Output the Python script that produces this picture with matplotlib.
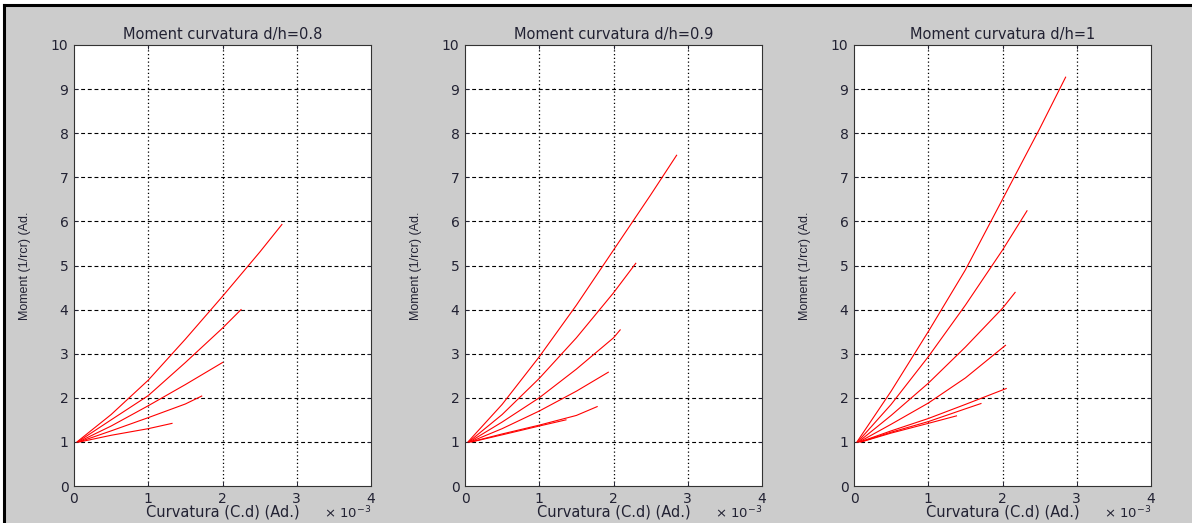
import matplotlib
matplotlib.use("Agg")
import matplotlib.pyplot as plt
from matplotlib.patches import Rectangle
from matplotlib.lines import Line2D

plt.rcParams['font.family'] = ['DejaVu Sans']

# curvatura values are in units of 1e-3 (axis shows "x 10^-3")
# d/h = 0.8
x08 = [
    [0.04, 0.5, 1.0, 1.5, 2.0, 2.5, 2.80],
    [0.05, 0.5, 1.0, 1.5, 2.0, 2.25],
    [0.06, 0.5, 1.0, 1.5, 2.0],
    [0.07, 0.5, 1.0, 1.5, 1.72],
    [0.08, 0.5, 1.0, 1.32],
]
y08 = [
    [1.0, 1.62, 2.40, 3.33, 4.30, 5.30, 5.93],
    [1.0, 1.50, 2.05, 2.80, 3.58, 4.00],
    [1.0, 1.36, 1.82, 2.30, 2.80],
    [1.0, 1.25, 1.55, 1.86, 2.04],
    [1.0, 1.15, 1.30, 1.42],
]

# d/h = 0.9
x09 = [
    [0.04, 0.5, 1.0, 1.5, 2.0, 2.5, 2.85],
    [0.05, 0.5, 1.0, 1.5, 2.0, 2.30],
    [0.06, 0.5, 1.0, 1.5, 2.0, 2.09],
    [0.07, 0.5, 1.0, 1.5, 1.93],
    [0.08, 0.5, 1.0, 1.5, 1.78],
    [0.09, 0.5, 1.0, 1.36],
]
y09 = [
    [1.0, 1.85, 2.93, 4.10, 5.35, 6.60, 7.50],
    [1.0, 1.62, 2.44, 3.36, 4.38, 5.05],
    [1.0, 1.45, 2.00, 2.65, 3.36, 3.54],
    [1.0, 1.30, 1.70, 2.15, 2.58],
    [1.0, 1.18, 1.38, 1.60, 1.80],
    [1.0, 1.16, 1.36, 1.50],
]

# d/h = 1
x10 = [
    [0.04, 0.5, 1.0, 1.5, 2.0, 2.5, 2.85],
    [0.05, 0.5, 1.0, 1.5, 2.0, 2.33],
    [0.06, 0.5, 1.0, 1.5, 2.0, 2.17],
    [0.07, 0.5, 1.0, 1.5, 2.04],
    [0.08, 0.5, 1.0, 1.5, 2.05],
    [0.09, 0.5, 1.0, 1.5, 1.71],
    [0.10, 0.5, 1.0, 1.38],
]
y10 = [
    [1.0, 2.15, 3.50, 4.90, 6.50, 8.10, 9.27],
    [1.0, 1.85, 2.93, 4.10, 5.35, 6.24],
    [1.0, 1.60, 2.33, 3.15, 4.03, 4.39],
    [1.0, 1.40, 1.88, 2.45, 3.19],
    [1.0, 1.25, 1.53, 1.85, 2.21],
    [1.0, 1.22, 1.46, 1.75, 1.87],
    [1.0, 1.20, 1.42, 1.59],
]

titles = ['Moment curvatura d/h=0.8', 'Moment curvatura d/h=0.9', 'Moment curvatura d/h=1']
panels = [(x08, y08), (x09, y09), (x10, y10)]
xticks = [0, 1, 2, 3, 4]
yticks = [0, 1, 2, 3, 4, 5, 6, 7, 8, 9, 10]

W, H = 1192, 523
fig = plt.figure(figsize=(W / 100, H / 100), dpi=100, facecolor='#cccccc')

# white strip on top and left, black frame
fig.patches.append(Rectangle((0, (H - 5) / H), 1, 5 / H, transform=fig.transFigure,
                             facecolor='white', edgecolor='none', zorder=-10))
fig.patches.append(Rectangle((0, 0), 4 / W, 1, transform=fig.transFigure,
                             facecolor='white', edgecolor='none', zorder=-10))
fig.lines.append(Line2D([4 / W, 1], [(H - 5) / H, (H - 5) / H], transform=fig.transFigure,
                        color='black', lw=2.2))
fig.lines.append(Line2D([4 / W, 4 / W], [0, (H - 5) / H], transform=fig.transFigure,
                        color='black', lw=2.2))

txt = '#222233'
lefts = [74, 465, 854]
for left, (xs, ys), title in zip(lefts, panels, titles):
    ax = fig.add_axes([left / W, (H - 486) / H, 297 / W, 441 / H])
    ax.set_facecolor('white')
    for xx, yy in zip(xs, ys):
        ax.plot(xx, yy, color='red', lw=0.8)
    ax.set_xlim(0, 4)
    ax.set_ylim(0, 10)
    ax.set_xticks(xticks)
    ax.set_yticks(yticks)
    for t in xticks[1:-1]:
        ax.axvline(t, color='black', lw=0.9, ls=(0, (1, 2)), zorder=0.5)
    for t in yticks[1:-1]:
        ax.axhline(t, color='black', lw=0.8, ls=(0, (3.5, 2.5)), zorder=0.5)
    ax.tick_params(direction='in', length=3, width=0.7, top=True, right=True,
                   labelsize=10, colors=txt, pad=4)
    for s in ax.spines.values():
        s.set_color('#333333')
        s.set_linewidth(0.8)
    ax.set_title(title, fontsize=10.5, color=txt, pad=4)
    ax.set_xlabel('Curvatura (C.d) (Ad.)', fontsize=10.5, color=txt, labelpad=-1)
    ax.set_ylabel('Moment (1/rcr) (Ad.', fontsize=9, color=txt, labelpad=14,
                  family=['DejaVu Sans Condensed', 'Liberation Sans Narrow', 'Liberation Sans'])
    ax.text(1.0, -0.061, r'$\times$ 10$^{-3}$', transform=ax.transAxes, ha='right', va='center',
            fontsize=9.5, color=txt)

fig.savefig('out.png', dpi=100, facecolor=fig.get_facecolor())
